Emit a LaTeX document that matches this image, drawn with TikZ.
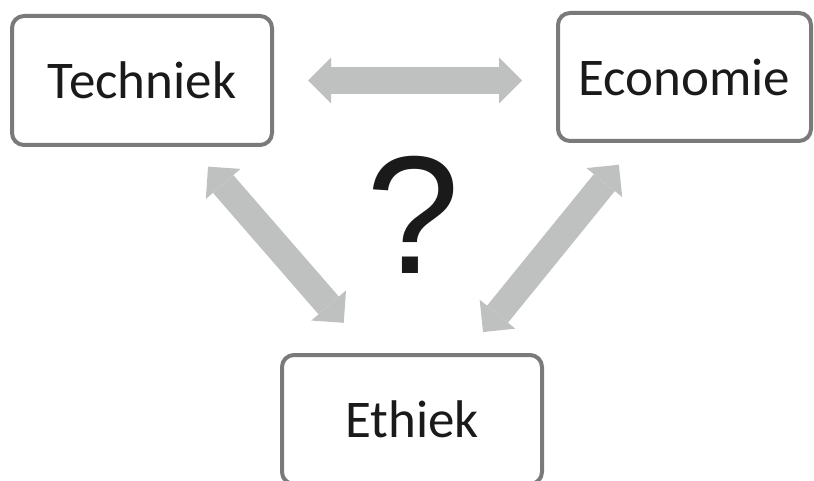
\documentclass[tikz,border=0pt]{standalone}
\usepackage{fontspec}
\setmainfont{Carlito}
\newfontfamily\qfont{Liberation Sans}
\usetikzlibrary{arrows.meta}

\definecolor{boxgray}{RGB}{122,122,122}
\definecolor{arrowgray}{RGB}{191,193,192}
\definecolor{textblack}{RGB}{26,26,26}

\tikzset{
  topic/.style={draw=boxgray, line width=4pt, rounded corners=12pt, text=textblack,
    font=\fontsize{53}{60}\selectfont, inner sep=0pt},
  biarrow/.style={draw=arrowgray, line width=27pt,
    {Triangle[width=46pt,length=23pt,line width=0pt]}-{Triangle[width=46pt,length=23pt,line width=0pt]}}
}

\begin{document}
\begin{tikzpicture}[x=1pt, y=-1pt]
    \useasboundingbox (0,0) rectangle (814,481);

    % the three boxes
    \node[topic, minimum width=260pt, minimum height=129pt] (techniek) at (142,80.5) {Techniek};
    \node[topic, minimum width=253pt, minimum height=128pt] (economie) at (684.5,77) {Economie};
    \node[topic, minimum width=260pt, minimum height=129pt] (ethiek) at (412,419.5) {Ethiek};

    % question in the middle
    \node[font=\qfont\fontsize{168}{170}\selectfont, text=textblack, inner sep=0pt] (vraag) at (413,214.5) {?};

    % double arrows between the boxes
    \draw[biarrow, shorten <=34pt, shorten >=34pt] (techniek.east) -- (techniek.east -| economie.west);
    \draw[biarrow, shorten <=26pt, shorten >=40pt] ([xshift=49pt]techniek.south) -- ([xshift=-42pt]ethiek.north);
    \draw[biarrow, shorten <=28pt, shorten >=27pt] ([xshift=-48pt]economie.south) -- ([xshift=54pt]ethiek.north);
\end{tikzpicture}
\end{document}
